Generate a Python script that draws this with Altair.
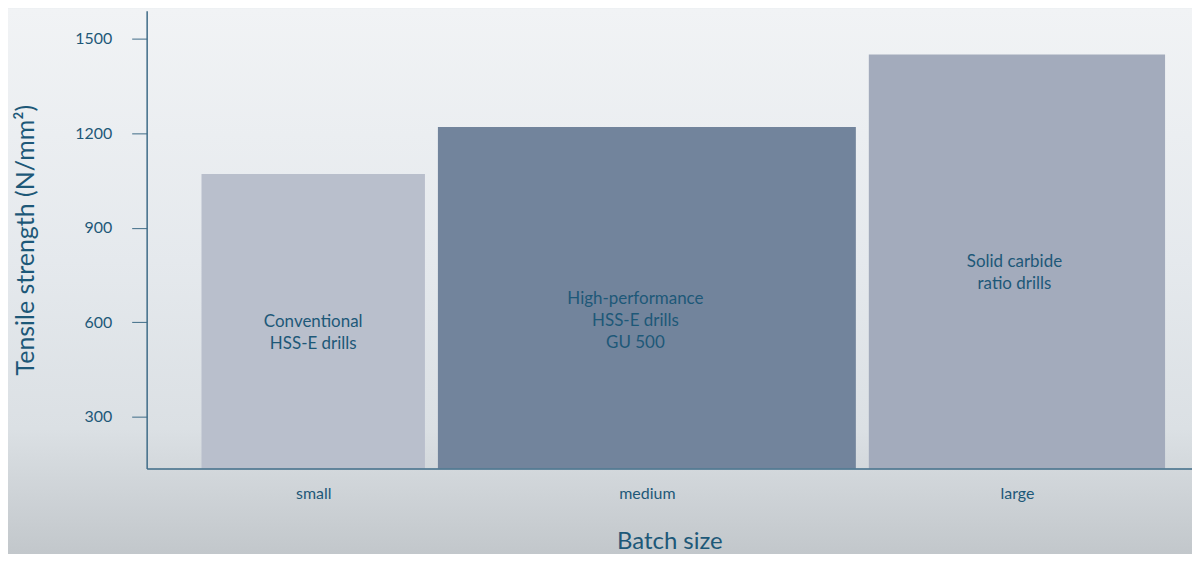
import altair as alt
import pandas as pd

# ---- data ----
categories = ["small", "medium", "large"]
drill_types = ["Conventional\nHSS-E drills", "High-performance\nHSS-E drills\nGU 500", "Solid carbide\n ratio drills"]
tensile_strength = [1070, 1220, 1450]
batch_start = [55, 292, 724]      # variable bar extents along the batch-size axis
batch_end = [279, 711, 1021]
batch_center = [167, 501.5, 872.5]
label_x = [167, 490, 870]
label_y = [601, 674, 791]
bar_colors = ["#b9bfcc", "#72849c", "#a3abbc"]
y_ticks = [300, 600, 900, 1200, 1500]
X_DOMAIN = [0, 1048]
Y_DOMAIN = [135, 1589]

df = pd.DataFrame({
    "cat": categories, "drill": drill_types, "ts": tensile_strength,
    "x0": batch_start, "x1": batch_end, "xc": batch_center,
    "lx": label_x, "ly": label_y, "color": bar_colors,
})
df["base"] = Y_DOMAIN[0]

TEXT = "#1d5878"
AXIS = "#3e6b87"
FONT = "Lato"

label_expr = " : ".join(
    f"datum.value == {c} ? '{n}'" for c, n in zip(batch_center, categories)
) + " : ''"

xscale = alt.Scale(domain=X_DOMAIN, nice=False, zero=False)
yscale = alt.Scale(domain=Y_DOMAIN, nice=False, zero=False)

bg = alt.Chart(df).mark_rect(
    color=alt.Gradient(
        gradient="linear", x1=0, y1=0, x2=0, y2=1,
        stops=[alt.GradientStop(offset=0, color="#f1f3f5"),
               alt.GradientStop(offset=0.45, color="#e5e9ed"),
               alt.GradientStop(offset=0.75, color="#dbe0e4"),
               alt.GradientStop(offset=1, color="#bfc4c8")]
    )
).encode(x=alt.value(-139), x2=alt.value(1053), y=alt.value(-2), y2=alt.value(560))

bars = alt.Chart(df).mark_bar(cornerRadius=0).encode(
    x=alt.X("x0:Q", scale=xscale,
            axis=alt.Axis(values=batch_center, labelExpr=label_expr, ticks=False, tickSize=0,
                          domainColor=AXIS, domainWidth=1.5, grid=False, zindex=2,
                          labelColor=TEXT, labelFont=FONT, labelFontSize=16, labelPadding=17,
                          title="Batch size", titleColor=TEXT, titleFont=FONT, titleFontSize=24,
                          titleFontWeight="normal", titlePadding=28)),
    x2="x1:Q",
    y=alt.Y("ts:Q", scale=yscale,
            axis=alt.Axis(values=y_ticks, format="d", tickSize=15, tickColor=AXIS, domainColor=AXIS,
                          domainWidth=1.5, grid=False, labelColor=TEXT, labelFont=FONT,
                          labelFontSize=16, labelPadding=20, zindex=2,
                          title="Tensile strength (N/mm²)", titleColor=TEXT, titleFont=FONT,
                          titleFontSize=25, titleFontWeight="normal", titlePadding=36)),
    y2="base:Q",
    color=alt.Color("color:N", scale=None),
)

labels = alt.Chart(df).mark_text(
    font=FONT, fontSize=17, color=TEXT, align="center", baseline="middle", lineBreak="\n",
    lineHeight=22,
).encode(
    x=alt.X("lx:Q", scale=xscale),
    y=alt.Y("ly:Q", scale=yscale),
    text="drill:N",
)

chart = alt.layer(bg, bars, labels).properties(
    width=1048, height=459,
    autosize=alt.AutoSizeParams(type="none"),
    padding={"left": 139, "top": 2, "right": 0, "bottom": 85},
    background="#e9edf0",
).configure_view(strokeWidth=0)

chart.save("out.html", embed_options={"renderer": "svg", "actions": False})
